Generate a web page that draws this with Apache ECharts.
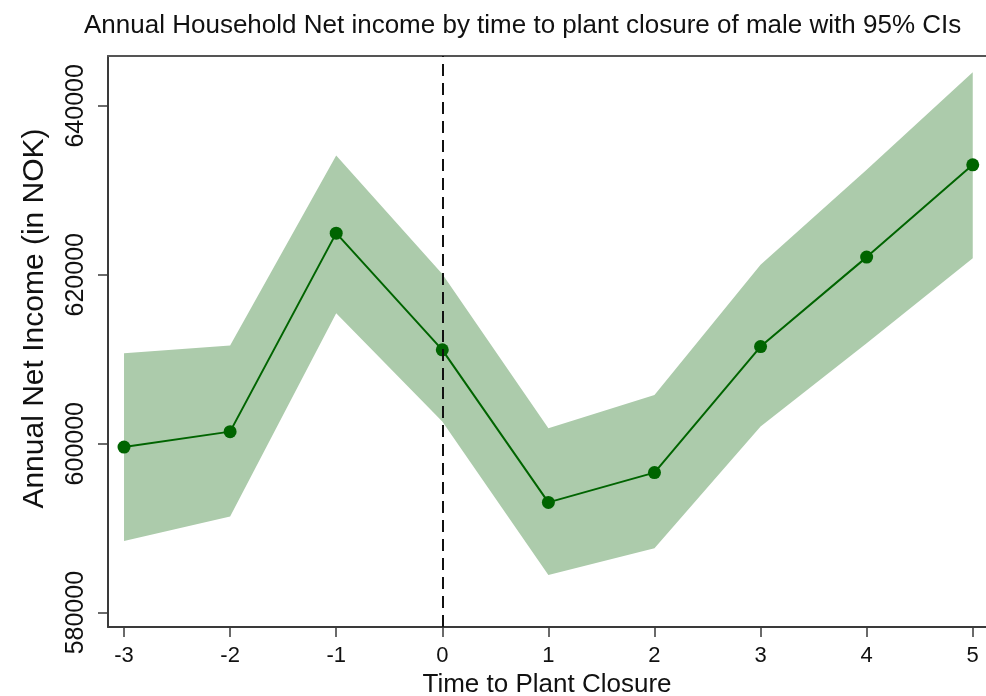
<!DOCTYPE html>
<html>
<head>
<meta charset="utf-8">
<script src="https://cdn.jsdelivr.net/npm/echarts@6/dist/echarts.min.js"></script>
<style>
  html, body { margin: 0; padding: 0; background: #fff; }
  #chart { width: 986px; height: 696px; }
</style>
</head>
<body>
<div id="chart"></div>
<script>
// Years relative to plant closure
const years = [-3, -2, -1, 0, 1, 2, 3, 4, 5];
// Point estimates of annual household net income (NOK)
const income = [599600, 601430, 624930, 611110, 593050, 596580, 611500, 622090, 633020];
// 95% confidence bounds
const upperCI = [610720, 611620, 634120, 620100, 601840, 605780, 621180, 632430, 643990];
const lowerCI = [588490, 591370, 615450, 602620, 584460, 587630, 602030, 611880, 621970];
// Tick marks
const xTicks = [-3, -2, -1, 0, 1, 2, 3, 4, 5];
const yTicks = [580000, 600000, 620000, 640000];

const FONT = '"Liberation Sans", Arial, Helvetica, sans-serif';
const AXIS_COLOR = '#3a3a3a';
const BAND_COLOR = '#accbab';
const LINE_COLOR = '#006400';

const chart = echarts.init(document.getElementById('chart'), null, { renderer: 'canvas' });

chart.setOption({
  animation: false,
  backgroundColor: '#ffffff',
  title: {
    text: 'Annual Household Net income by time to plant closure of male with 95% CIs',
    left: 79,
    top: 8,
    textStyle: { fontFamily: FONT, fontSize: 26, fontWeight: 'normal', color: '#111' }
  },
  grid: { left: 108, right: 0, top: 56, bottom: 69, containLabel: false, outerBoundsMode: 'none' },
  xAxis: [
    {
      type: 'value',
      min: -3.151,
      max: 5.125,
      name: 'Time to Plant Closure',
      nameLocation: 'middle',
      nameGap: 40,
      nameTextStyle: { fontFamily: FONT, fontSize: 26, color: '#111' },
      axisLine: { show: true, onZero: false, lineStyle: { color: AXIS_COLOR, width: 2 } },
      axisTick: { show: true, length: 10, customValues: xTicks, lineStyle: { color: AXIS_COLOR, width: 1.5 } },
      axisLabel: {
        customValues: xTicks,
        margin: 18,
        fontFamily: FONT, fontSize: 22, color: '#111',
        formatter: v => String(v)
      },
      splitLine: { show: false }
    },
    {
      type: 'value',
      position: 'top',
      min: -3.151,
      max: 5.125,
      axisLine: { show: true, onZero: false, lineStyle: { color: '#555', width: 2 } },
      axisTick: { show: false },
      axisLabel: { show: false },
      splitLine: { show: false }
    }
  ],
  yAxis: {
    type: 'value',
    min: 578300,
    max: 645900,
    name: 'Annual Net Income (in NOK)',
    nameLocation: 'middle',
    nameGap: 58,
    nameTextStyle: { fontFamily: FONT, fontSize: 30, color: '#111', padding: [0, 0, 0, 46] },
    axisLine: { show: true, onZero: false, lineStyle: { color: AXIS_COLOR, width: 2 } },
    axisTick: { show: true, length: 10, customValues: yTicks, lineStyle: { color: AXIS_COLOR, width: 1.5 } },
    axisLabel: {
      customValues: yTicks,
      rotate: 90,
      margin: 19,
      fontFamily: FONT, fontSize: 25, color: '#111',
      formatter: v => String(v)
    },
    splitLine: { show: false }
  },
  series: [
    {
      // reference line at the closure year
      type: 'line',
      data: [],
      z: 1,
      markLine: {
        silent: true,
        symbol: 'none',
        label: { show: false },
        lineStyle: { color: '#111', type: [12, 7], width: 2 },
        data: [{ xAxis: 0 }]
      }
    },
    {
      // confidence band
      type: 'custom',
      z: 2,
      data: years.map((y, i) => [y, lowerCI[i], upperCI[i]]),
      encode: { x: 0, y: [1, 2] },
      renderItem: function (params, api) {
        if (params.dataIndex !== 0) return null;
        const pts = [];
        for (let i = 0; i < years.length; i++) pts.push(api.coord([years[i], upperCI[i]]));
        for (let i = years.length - 1; i >= 0; i--) pts.push(api.coord([years[i], lowerCI[i]]));
        return { type: 'polygon', shape: { points: pts }, style: { fill: BAND_COLOR } };
      }
    },
    {
      type: 'line',
      z: 3,
      data: years.map((y, i) => [y, income[i]]),
      symbol: 'circle',
      symbolSize: 13,
      lineStyle: { color: LINE_COLOR, width: 2 },
      itemStyle: { color: LINE_COLOR }
    }
  ]
});
</script>
</body>
</html>
